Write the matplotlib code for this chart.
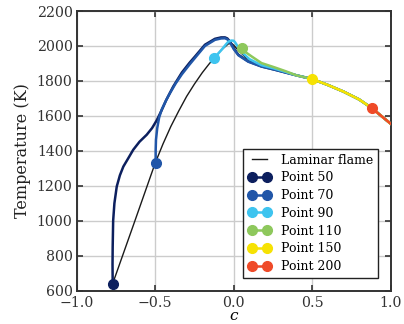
import matplotlib
matplotlib.use("Agg")
import matplotlib.pyplot as plt

plt.rcParams['font.family'] = ['DejaVu Serif']
plt.rcParams['mathtext.fontset'] = 'dejavuserif'

# Laminar flame
lam_c = [-0.771, -0.635, -0.50, -0.45, -0.40, -0.35, -0.30, -0.25, -0.20, -0.16, -0.125,
         -0.076, -0.034, -0.015, 0.0, 0.03, 0.08, 0.15, 0.23, 0.30, 0.40, 0.50, 0.60,
         0.70, 0.80, 0.88, 0.95, 1.0]
lam_T = [640, 985, 1330, 1440, 1540, 1628, 1711, 1782, 1847, 1893, 1931,
         1979, 2012, 2015, 2005, 1975, 1932, 1896, 1872, 1858, 1832, 1811, 1777,
         1739, 1694, 1645, 1593, 1556]

tail_c = [0.40, 0.50, 0.60, 0.70, 0.80, 0.88, 0.95, 1.0]
tail_T = [1832, 1811, 1777, 1739, 1694, 1645, 1593, 1556]

p50_c = [-0.771, -0.772, -0.771, -0.768, -0.76, -0.745, -0.725, -0.703, -0.67, -0.64,
         -0.60, -0.554, -0.52, -0.49, -0.46, -0.43, -0.385, -0.33, -0.28, -0.246,
         -0.183, -0.119, -0.08, -0.055, -0.04, -0.024, -0.01, 0.0, 0.03, 0.093,
         0.178, 0.263, 0.33] + tail_c
p50_T = [640, 750, 850, 1000, 1100, 1196, 1260, 1310, 1360, 1406,
         1452, 1492, 1530, 1575, 1630, 1690, 1768, 1848, 1905, 1940,
         2007, 2041, 2049, 2049, 2043, 2026, 2005, 1988, 1950, 1912,
         1883, 1864, 1848] + tail_T

p70_c = [-0.497, -0.497, -0.495, -0.487, -0.475, -0.459, -0.43, -0.406, -0.37, -0.33,
         -0.28, -0.246, -0.183, -0.119, -0.08, -0.055, -0.04, -0.024, -0.01, 0.0,
         0.03, 0.093, 0.178, 0.263, 0.33] + tail_c
p70_T = [1333, 1400, 1463, 1530, 1590, 1635, 1690, 1730, 1785, 1838,
         1895, 1932, 2000, 2035, 2043, 2044, 2038, 2020, 2000, 1983,
         1947, 1910, 1882, 1864, 1849] + tail_T

p90_c = [-0.125, -0.10, -0.076, -0.05, -0.034, -0.015, 0.0, 0.01, 0.019, 0.035,
         0.06, 0.10, 0.178, 0.263, 0.33] + tail_c
p90_T = [1931, 1955, 1979, 2008, 2024, 2031, 2030, 2020, 2007, 1985,
         1958, 1925, 1890, 1870, 1852] + tail_T

p110_c = [0.051, 0.08, 0.115, 0.178, 0.263, 0.33] + tail_c
p110_T = [1986, 1962, 1940, 1902, 1877, 1856] + tail_T

p150_c = tail_c[1:]
p150_T = tail_T[1:]

p200_c = tail_c[5:]
p200_T = tail_T[5:]

series = [
    ("Point 50", p50_c, p50_T, "#0c1f5e"),
    ("Point 70", p70_c, p70_T, "#2156a8"),
    ("Point 90", p90_c, p90_T, "#3ec4ef"),
    ("Point 110", p110_c, p110_T, "#8ec85c"),
    ("Point 150", p150_c, p150_T, "#f6e203"),
    ("Point 200", p200_c, p200_T, "#ef4a28"),
]

fig = plt.figure(figsize=(4.04, 3.24), dpi=100)
ax = fig.add_axes([0.19, 0.103, 0.7766, 0.863])

ax.plot(lam_c, lam_T, color="#1a1a1a", lw=1.0, label="Laminar flame", zorder=3)
for name, cc, tt, col in series:
    ax.plot(cc, tt, color=col, lw=1.8, zorder=4)
for name, cc, tt, col in series:
    ax.plot([cc[0]], [tt[0]], 'o', color=col, ms=7, zorder=6)
    ax.plot([], [], '-o', color=col, lw=1.8, ms=7, label=name)

ax.set_xlim(-1.0, 1.0)
ax.set_ylim(600, 2200)
ax.set_xticks([-1.0, -0.5, 0.0, 0.5, 1.0])
ax.set_yticks(range(600, 2201, 200))
ax.grid(True, color="#cccccc", lw=1.0, zorder=0)
ax.set_axisbelow(True)
for s in ax.spines.values():
    s.set_color("#333333")
    s.set_linewidth(1.4)
ax.tick_params(direction='in', top=True, right=True, length=4, width=1.2,
               color="#333333", labelcolor="#333333", labelsize=10.2)
ax.tick_params(axis='x', pad=4)
ax.tick_params(axis='y', pad=3)
ax.set_xlabel(r"$c$", fontsize=11, labelpad=-1)
ax.set_ylabel("Temperature (K)", fontsize=11.5, labelpad=4, color="#222222")

leg = ax.legend(loc="lower right", bbox_to_anchor=(0.96, 0.045), borderaxespad=0,
                fontsize=9, frameon=True, fancybox=False, framealpha=1,
                edgecolor="#222222", handlelength=1.8, numpoints=2,
                labelspacing=0.38, borderpad=0.4, handletextpad=0.8)
leg.get_frame().set_linewidth(1.0)

fig.savefig("out.png", dpi=100)
